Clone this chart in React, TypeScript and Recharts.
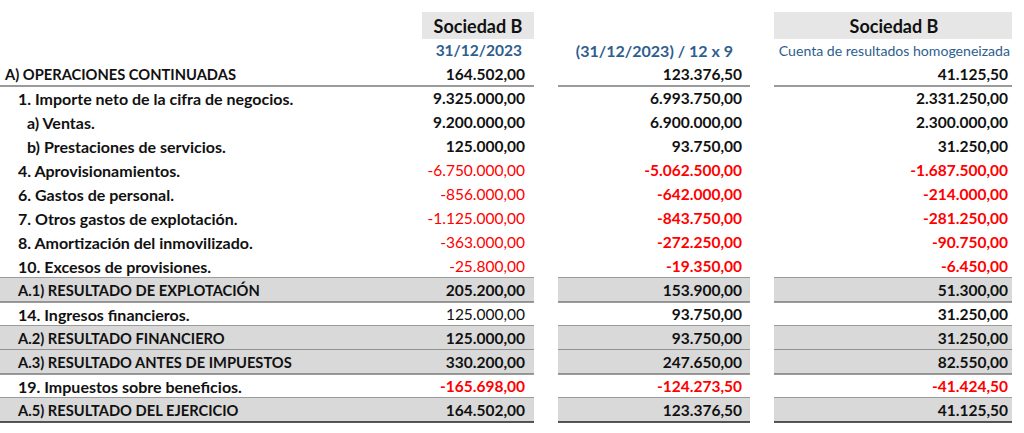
import { BarChart, Bar, XAxis, YAxis } from "recharts";

const headerCols = ["Sociedad B", "Sociedad B"];
const subHeaders = ["31/12/2023", "(31/12/2023) / 12 x 9", "Cuenta de resultados homogeneizada"];

const labels = [
	"A) OPERACIONES CONTINUADAS",
	"1. Importe neto de la cifra de negocios.",
	"a) Ventas.",
	"b) Prestaciones de servicios.",
	"4. Aprovisionamientos.",
	"6. Gastos de personal.",
	"7. Otros gastos de explotación.",
	"8. Amortización del inmovilizado.",
	"10. Excesos de provisiones.",
	"A.1) RESULTADO DE EXPLOTACIÓN",
	"14. Ingresos financieros.",
	"A.2) RESULTADO FINANCIERO",
	"A.3) RESULTADO ANTES DE IMPUESTOS",
	"19. Impuestos sobre beneficios.",
	"A.5) RESULTADO DEL EJERCICIO",
];

const levels = [0, 1, 2, 2, 1, 1, 1, 1, 1, 1, 1, 1, 1, 1, 1];

const sociedadB = [
	164502, 9325000, 9200000, 125000, -6750000, -856000, -1125000, -363000, -25800,
	205200, 125000, 125000, 330200, -165698, 164502,
];

const prorrata = [
	123376.5, 6993750, 6900000, 93750, -5062500, -642000, -843750, -272250, -19350,
	153900, 93750, 93750, 247650, -124273.5, 123376.5,
];

const homogeneizada = [
	41125.5, 2331250, 2300000, 31250, -1687500, -214000, -281250, -90750, -6450,
	51300, 31250, 31250, 82550, -41424.5, 41125.5,
];

// rows where the first value column is not bold in the source sheet
const plainFirstCol = [4, 5, 6, 7, 8, 10];

const FONT = "Lato";
const SEGS = [
	[0, 534],
	[558, 750],
	[774, 1012],
];
const RIGHTS = [525, 742, 1008];
const INDENT = [5, 18, 27];
const BLUE = "#2E5E8E";
const RED = "#FF0000";
const INK = "#111";

const fmt = (v: number) => {
	const [i, d] = Math.abs(v).toFixed(2).split(".");
	return (v < 0 ? "-" : "") + i.replace(/\B(?=(\d{3})+(?!\d))/g, ".") + "," + d;
};

const rows = [
	{ id: "h1", kind: "h1", span: 1 },
	{ id: "h2", kind: "h2", span: 1 },
	...labels.map((label, i) => ({
		id: "r" + i,
		kind: "row",
		i,
		label,
		vals: [sociedadB[i], prorrata[i], homogeneizada[i]],
		span: 1,
	})),
];

function RowShape(props: any) {
	const { y, height, payload } = props;
	const cy = y + height / 2;
	if (payload.kind === "h1") {
		return (
			<g>
				<rect x={422} y={y - 2} width={112} height={height + 3} fill="#E7E6E6" />
				<rect x={774} y={y - 2} width={238} height={height + 3} fill="#E7E6E6" />
				<text x={478} y={cy} textAnchor="middle" dominantBaseline="central" fontFamily={FONT} fontWeight={700} fontSize={18} fill={INK}>
					{headerCols[0]}
				</text>
				<text x={894} y={cy} textAnchor="middle" dominantBaseline="central" fontFamily={FONT} fontWeight={700} fontSize={18} fill={INK}>
					{headerCols[1]}
				</text>
			</g>
		);
	}
	if (payload.kind === "h2") {
		return (
			<g>
				<text x={522} y={cy} textAnchor="end" dominantBaseline="central" fontFamily={FONT} fontWeight={700} fontSize={15.5} fill={BLUE}>
					{subHeaders[0]}
				</text>
				<text x={733} y={cy} textAnchor="end" dominantBaseline="central" fontFamily={FONT} fontWeight={700} fontSize={16} fill={BLUE}>
					{subHeaders[1]}
				</text>
				<text x={1010} y={cy} textAnchor="end" dominantBaseline="central" fontFamily={FONT} fontSize={14.1} fill={BLUE}>
					{subHeaders[2]}
				</text>
			</g>
		);
	}
	const i = payload.i;
	const gray = /^A\.\d/.test(payload.label);
	const caps = payload.label === payload.label.toUpperCase();
	const underline = i === 0 || i >= 8;
	const last = i === labels.length - 1;
	return (
		<g>
			{gray &&
				SEGS.map(([a, b], k) => (
					<rect key={"g" + k} x={a} y={y} width={b - a} height={height} fill="#D9D9D9" />
				))}
			{underline &&
				SEGS.map(([a, b], k) => (
					<line key={"l" + k} x1={a} x2={b} y1={y + height} y2={y + height} stroke={last ? "#222" : "#7A7A7A"} strokeWidth={1.6} />
				))}
			<text x={INDENT[levels[i]]} y={cy} dominantBaseline="central" fontFamily={FONT} fontWeight={700} fontSize={caps ? 14.7 : 16} fill={INK}>
				{payload.label}
			</text>
			{payload.vals.map((v: number, k: number) => (
				<text
					key={"v" + k}
					x={RIGHTS[k]}
					y={cy}
					textAnchor="end"
					dominantBaseline="central"
					fontFamily={FONT}
					fontWeight={k === 0 && plainFirstCol.includes(i) ? 400 : 700}
					fontSize={15.5}
					fill={v < 0 ? RED : INK}
				>
					{fmt(v)}
				</text>
			))}
		</g>
	);
}

export default function App() {
	return (
		<div style={{ position: "absolute", left: 0, top: 0, background: "#fff" }}>
			<BarChart
				width={1024}
				height={433}
				data={rows}
				layout="vertical"
				barCategoryGap={0}
				margin={{ top: 14, right: 0, bottom: 11, left: 0 }}
			>
				<XAxis type="number" domain={[0, 1]} hide />
				<YAxis type="category" dataKey="id" hide />
				<Bar dataKey="span" isAnimationActive={false} shape={(p: any) => <RowShape {...p} />} />
			</BarChart>
		</div>
	);
}
